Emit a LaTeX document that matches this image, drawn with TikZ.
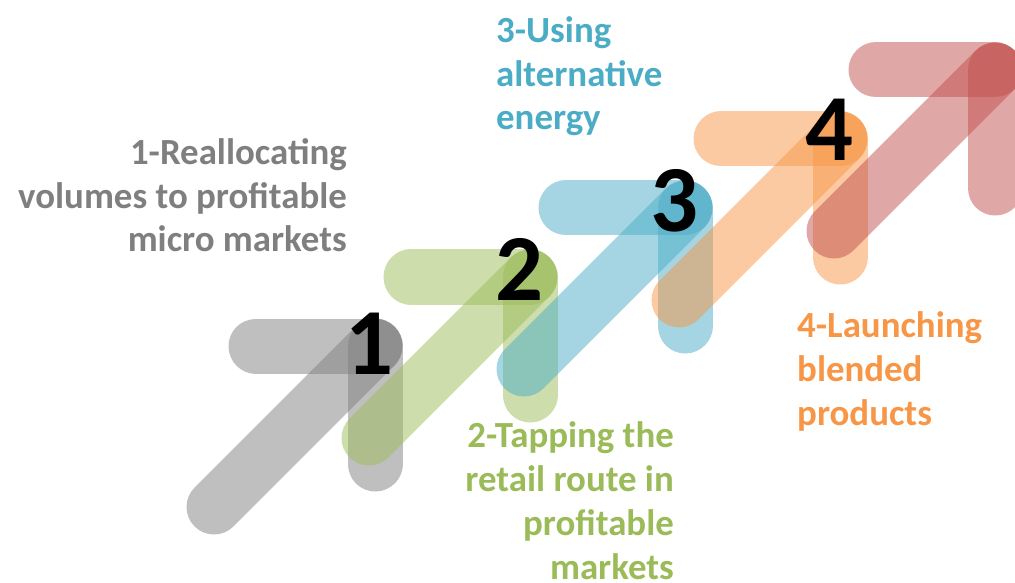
\documentclass[tikz,border=0pt]{standalone}
\usepackage{fontspec}
\setmainfont{Carlito}
\definecolor{cgray}{HTML}{808080}
\definecolor{cgreen}{HTML}{9BBB59}
\definecolor{cblue}{HTML}{4BACC6}
\definecolor{corange}{HTML}{F79646}
\definecolor{cred}{HTML}{C0504D}
\definecolor{tgray}{HTML}{7F7F7F}
\tikzset{
  bar/.style={line width=55bp, line cap=round, draw opacity=0.5},
  steplabel/.style={font=\bfseries\fontsize{37}{44}\selectfont, inner sep=0pt},
  digit/.style={font=\bfseries\fontsize{95}{95}\selectfont, inner sep=0pt, anchor=base}
}
\begin{document}
\begin{tikzpicture}[x=1bp,y=-1bp]
  \useasboundingbox (0,0) rectangle (1015,583);
  % five stair arrows: a horizontal bar, a vertical bar and a diagonal meeting at a corner
  \foreach \x/\y/\c/\n in {375/346/cgray/a1, 530/277/cgreen/a2, 685/208/cblue/a3, 840/139/corange/a4, 995/70/cred/a5} {
    \coordinate (\n) at (\x,\y);
    \draw[bar,\c] ([shift={(-119,0)}]\n) -- (\n);
    \draw[bar,\c] (\n) -- ([shift={(0,118)}]\n);
    \draw[bar,\c] ([shift={(-161,161)}]\n) -- (\n);
  }
  % step numbers
  \node[digit] (d1) at (369,374) {1};
  \node[digit] (d2) at (519,301) {2};
  \node[digit] (d3) at (674,232) {3};
  \node[digit] (d4) at (829,161) {4};
  % step descriptions (the base anchor is the baseline of the last line)
  \node[steplabel, text=tgray, align=right, anchor=base east] (t1) at (347,252)
    {1-Reallocating\\volumes to profitable\\micro markets};
  \node[steplabel, text=cgreen, align=right, anchor=base east] (t2) at (674,579)
    {2-Tapping the\\retail route in\\profitable\\markets};
  \node[steplabel, text=cblue, align=left, anchor=base west] (t3) at (496,130)
    {3-Using\\alternative\\energy};
  \node[steplabel, text=corange, align=left, anchor=base west] (t4) at (797,425)
    {4-Launching\\blended\\products};
\end{tikzpicture}
\end{document}
